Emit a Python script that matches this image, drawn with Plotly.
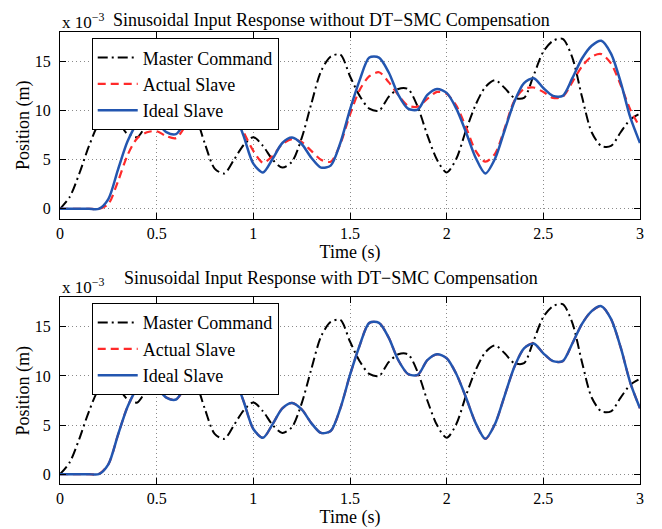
import plotly.graph_objects as go

# time axis (s) and positions (units of 1e-3 m)
time_s = [round(i * 0.05, 2) for i in range(61)]

master_cmd = [0.0, 1.2, 3.6, 6.4, 8.6, 9.3, 8.8, 7.6, 7.3, 8.7,
              10.0, 11.0, 11.4, 11.0, 9.5, 6.6, 4.1, 3.6, 5.0, 6.5,
              7.3, 6.4, 5.0, 4.2, 4.8, 7.2, 10.7, 14.0, 15.5, 15.7,
              13.5, 11.5, 10.2, 10.0, 11.4, 12.2, 12.2, 10.4, 7.5, 5.0,
              3.7, 5.1, 8.0, 10.6, 12.4, 13.1, 12.3, 11.3, 11.3, 13.6,
              16.0, 17.1, 17.3, 15.4, 11.4, 7.8, 6.4, 6.4, 7.8, 9.1,
              9.7]

ideal_slave = [0.0, 0.0, 0.0, 0.0, 0.0, 1.0, 4.0, 6.9, 8.7, 9.35,
               8.8, 7.8, 7.6, 9.0, 10.6, 12.0, 12.5, 11.8, 10.0, 7.4,
               4.6, 3.7, 5.1, 6.7, 7.25, 6.6, 5.2, 4.2, 4.4, 6.7,
               10.1, 13.1, 15.4, 15.4, 13.9, 11.6, 10.2, 10.1, 11.6, 12.2,
               11.8, 10.2, 7.8, 5.2, 3.6, 5.1, 8.0, 10.9, 12.8, 13.3,
               12.3, 11.5, 11.5, 13.3, 15.3, 16.6, 17.1, 15.8, 12.9, 9.3,
               6.7]

actual_no_comp = [0.0, 0.0, 0.0, 0.0, 0.0, 0.5, 2.8, 5.5, 7.2, 7.8,
                  7.9, 7.4, 7.2, 8.5, 10.1, 11.2, 11.5, 11.0, 9.9, 7.8,
                  5.9, 4.7, 5.4, 6.6, 7.1, 6.8, 5.9, 5.0, 4.8, 6.6,
                  9.6, 12.1, 13.5, 13.9, 12.9, 11.6, 10.5, 10.4, 11.2, 11.9,
                  11.7, 10.5, 8.3, 5.9, 4.8, 5.6, 8.2, 11.0, 12.2, 12.35,
                  11.9, 11.3, 11.4, 12.9, 14.5, 15.5, 15.75, 14.8, 12.6, 10.1,
                  8.3]

# with compensation the actual slave sits on top of the ideal slave
actual_with_comp = list(ideal_slave)

x_ticks = [0, 0.5, 1, 1.5, 2, 2.5, 3]
y_ticks = [0, 5, 10, 15]

FONT = "Liberation Serif"
BLUE, RED = "#2356b0", "#ff2a2a"

fig = go.Figure()
panels = [("x", "y", "legend", actual_no_comp), ("x2", "y2", "legend2", actual_with_comp)]
for xa, ya, leg, actual in panels:
    fig.add_trace(go.Scatter(x=time_s, y=master_cmd, xaxis=xa, yaxis=ya, legend=leg, name="Master Command", mode="lines",
                             line=dict(color="black", width=2, dash="10px,4px,2px,4px", shape="spline", smoothing=0.8)))
    fig.add_trace(go.Scatter(x=time_s, y=actual, xaxis=xa, yaxis=ya, legend=leg, name="Actual Slave", mode="lines",
                             line=dict(color=RED, width=2.2, dash="8px,5px", shape="spline", smoothing=0.8)))
    fig.add_trace(go.Scatter(x=time_s, y=ideal_slave, xaxis=xa, yaxis=ya, legend=leg, name="Ideal Slave", mode="lines",
                             line=dict(color=BLUE, width=2.5, shape="spline", smoothing=0.8)))

ax_common = dict(showline=True, linecolor="black", linewidth=1.2, mirror="ticks", ticks="inside", ticklen=6, tickcolor="black",
                 showgrid=True, gridcolor="#8a8a8a", griddash="1px,3px", gridwidth=1, zeroline=False, automargin=False,
                 tickfont=dict(family=FONT, size=16, color="black"))
xa = dict(ax_common, range=[0, 3], tickvals=x_ticks, ticktext=[str(v) for v in x_ticks], ticklabelstandoff=0,
          title=dict(text="Time (s)", font=dict(family=FONT, size=18, color="black"), standoff=0))
ya = dict(ax_common, range=[-1, 18], tickvals=y_ticks, ticklabelstandoff=5,
          title=dict(text="Position (m)", font=dict(family=FONT, size=18, color="black"), standoff=0))

legend_style = dict(x=0.0547, xanchor="left", yanchor="top", bgcolor="white", bordercolor="black", borderwidth=1,
                    font=dict(family=FONT, size=18, color="black"), tracegroupgap=0, itemwidth=40)

# the page puts the figure 8px in from the top-left corner, so trim size and margins by that much
fig.update_layout(
    xaxis=dict(xa, domain=[0, 1], anchor="y"),
    yaxis=dict(ya, domain=[0.587, 1.0], anchor="x"),
    xaxis2=dict(xa, domain=[0, 1], anchor="y2"),
    yaxis2=dict(ya, domain=[0.0, 0.413], anchor="x2"),
    width=654, height=521, margin=dict(l=52, r=22, t=24, b=45),
    plot_bgcolor="white", paper_bgcolor="white", showlegend=True,
    legend=dict(legend_style, y=0.986),
    legend2=dict(legend_style, y=0.400),
)

titles = [("Sinusoidal Input Response without DT\u2212SMC Compensation", 1.0275, 1.024),
          ("Sinusoidal Input Response with DT\u2212SMC Compensation", 0.456, 0.439)]
for text, ty, ey in titles:
    fig.add_annotation(text=text, x=0.468, y=ty, xref="paper", yref="paper", xanchor="center", yanchor="middle",
                       showarrow=False, font=dict(family=FONT, size=18, color="black"))
    fig.add_annotation(text="x 10<sup>\u22123</sup>", x=0.0, y=ey, xref="paper", yref="paper", xanchor="left", yanchor="middle",
                       showarrow=False, font=dict(family=FONT, size=17, color="black"))

fig.write_html("out.html")
